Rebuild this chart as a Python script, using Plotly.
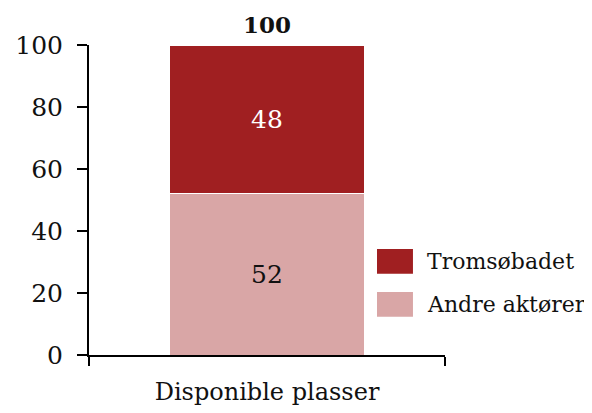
import plotly.graph_objects as go

categories = ["Disponible plasser"]
series_names = ["Andre aktører", "Tromsøbadet"]
andre = [52]
tromso = [48]
colors = {"Andre aktører": "#D9A6A6", "Tromsøbadet": "#A01F21"}
text_colors = {"Andre aktører": "#111111", "Tromsøbadet": "#FFFFFF"}
y_ticks = [0, 20, 40, 60, 80, 100]

FONT = "Georgia, 'DejaVu Serif', 'Liberation Serif', serif"

fig = go.Figure()
for name, vals in zip(series_names, [andre, tromso]):
    fig.add_trace(go.Bar(
        x=categories, y=vals, name=name,
        marker=dict(color=colors[name], line=dict(color="white", width=1)),
        text=[str(v) for v in vals], textposition="inside",
        insidetextanchor="middle",
        textfont=dict(family=FONT, size=25, color=text_colors[name]),
        width=0.55, showlegend=False,
    ))

totals = [a + b for a, b in zip(andre, tromso)]
for c, t in zip(categories, totals):
    fig.add_annotation(x=c, y=t, text=f"<b>{t}</b>", showarrow=False,
                       yanchor="bottom", yshift=5,
                       font=dict(family=FONT, size=23, color="#111111"))

# custom legend (top entry = top of stack)
legend_items = list(reversed(series_names))
legend_y = [0.302, 0.163]
for name, yc in zip(legend_items, legend_y):
    fig.add_shape(type="rect", xref="paper", yref="paper",
                  x0=0.809, x1=0.910, y0=yc - 0.040, y1=yc + 0.040,
                  fillcolor=colors[name], line=dict(width=0))
    fig.add_annotation(xref="paper", yref="paper", x=0.944, y=yc,
                       xanchor="left", yanchor="middle", showarrow=False,
                       text=name, font=dict(family=FONT, size=22, color="#111111"))

fig.update_layout(
    barmode="stack",
    width=584, height=405,
    margin=dict(l=81, r=147, t=37, b=58),
    plot_bgcolor="white", paper_bgcolor="white",
    font=dict(family=FONT, size=24, color="#111111"),
    xaxis=dict(showline=True, linecolor="black", linewidth=2,
               ticks="outside", tickson="boundaries", ticklen=9,
               tickwidth=2, tickcolor="black", ticklabelstandoff=14,
               automargin=False,
               tickfont=dict(family=FONT, size=24), range=[-0.5, 0.5]),
    yaxis=dict(range=[0, 100], tickvals=y_ticks, showline=True,
               linecolor="black", linewidth=2, ticks="outside", ticklen=10,
               tickwidth=2, tickcolor="black", showgrid=False, zeroline=False,
               ticklabelstandoff=9, automargin=False,
               tickfont=dict(family=FONT, size=25)),
)

fig.write_html("out.html")
